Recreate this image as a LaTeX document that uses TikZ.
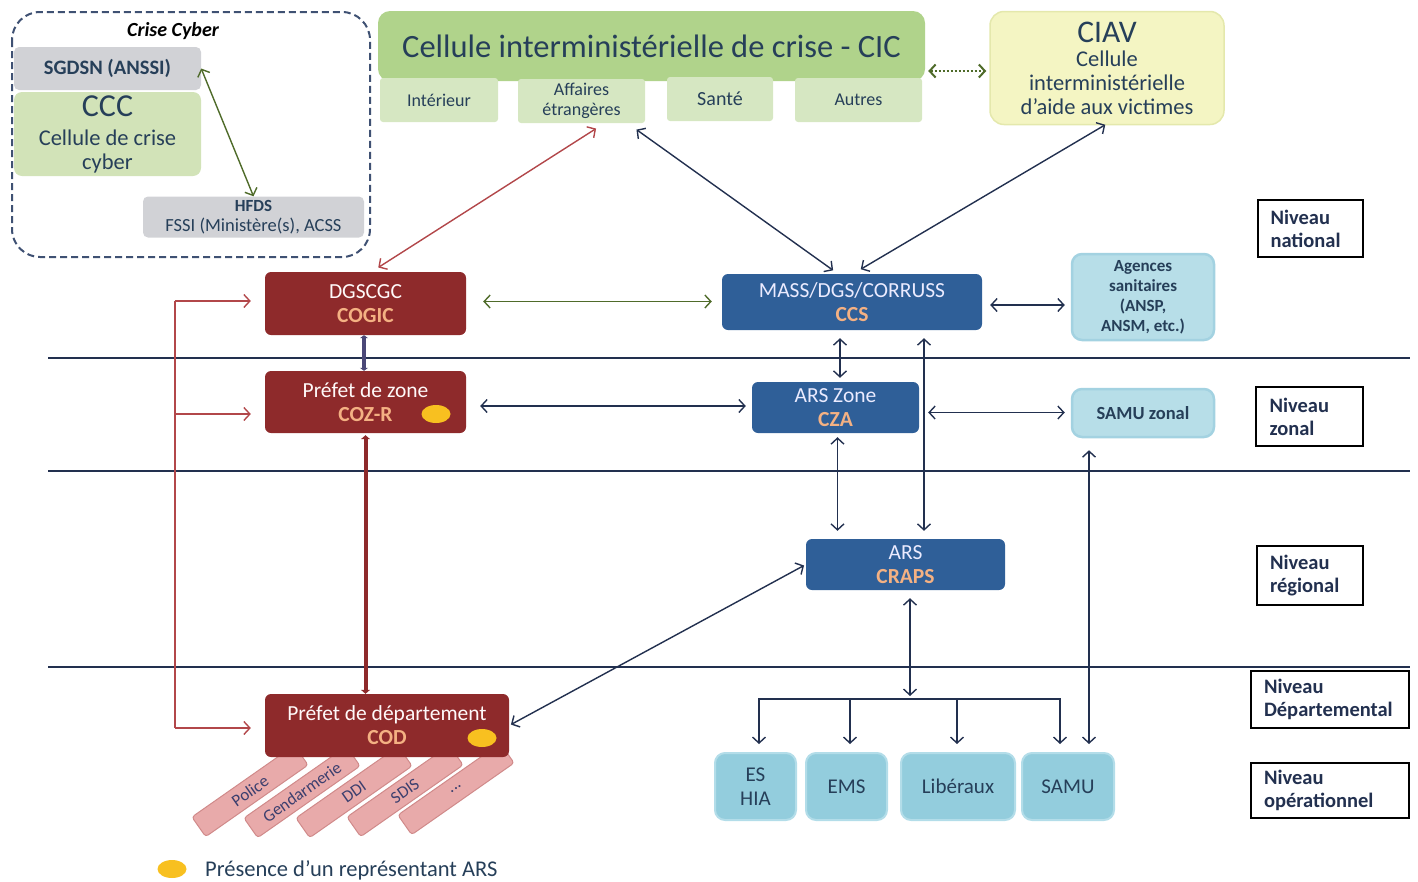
\documentclass[tikz,border=0pt]{standalone}
\usepackage{fontspec}
\setmainfont{Carlito}
\usetikzlibrary{arrows.meta,calc,shapes.geometric}
\definecolor{navy}{HTML}{22304F}
\definecolor{redl}{HTML}{B2474A}
\definecolor{greenl}{HTML}{4F6B2A}
\definecolor{darkred}{HTML}{8E2A2B}
\definecolor{blueb}{HTML}{2F5F98}
\definecolor{orangt}{HTML}{F4B183}
\definecolor{lightb}{HTML}{B7DEE8}
\definecolor{lightbd}{HTML}{A3D2E1}
\definecolor{botb}{HTML}{93CDDD}
\definecolor{botbd}{HTML}{B3DDE9}
\definecolor{cicdark}{HTML}{B0D38B}
\definecolor{ciclight}{HTML}{D6E7C2}
\definecolor{cccg}{HTML}{D2E3B8}
\definecolor{grayb}{HTML}{D1D2D6}
\definecolor{ciavy}{HTML}{F4F5C3}
\definecolor{ciavd}{HTML}{E4E8AC}
\definecolor{txt}{HTML}{263F59}
\definecolor{pinkf}{HTML}{E8AAAA}
\definecolor{pinkd}{HTML}{D08A8A}
\definecolor{pinkt}{HTML}{3C3F6E}
\definecolor{dashc}{HTML}{3F5173}
\definecolor{yel}{HTML}{F8C020}
\definecolor{thicknavy}{HTML}{4B4878}
\newcommand{\sz}[2]{\fontsize{#1}{#2}\selectfont}
\newcommand{\sub}[1]{\textcolor{orangt}{\bfseries #1}}
\begin{document}
\begin{tikzpicture}[x=1pt,y=-1pt,
  >={Straight Barb[length=6pt,width=13pt]},
  box/.style={rounded corners=6pt, inner sep=2pt, align=center},
  redbox/.style={box, fill=darkred, text=white!90!pink, font=\sz{21.5}{24}},
  bluebox/.style={box, fill=blueb, text=white!92!blue, font=\sz{21.5}{24}},
  ltbox/.style={box, fill=lightb, draw=lightbd, line width=2.5pt, rounded corners=10pt, text=txt},
  botbox/.style={box, fill=botb, draw=botbd, line width=2pt, rounded corners=10pt, text=txt, font=\sz{21}{24}},
  graybox/.style={box, fill=grayb, rounded corners=5pt, text=txt},
  subbox/.style={box, fill=ciclight, rounded corners=3pt, text=txt, minimum height=44, font=\sz{18}{20}},
  niv/.style={draw=black, line width=1.5pt, align=left, inner sep=2pt, text=navy, font=\bfseries\sz{20.5}{23}},
  pink/.style={fill=pinkf, draw=pinkd, line width=1pt, rounded corners=3pt, rotate=35, minimum width=125, minimum height=24, text=pinkt, inner sep=1pt, font=\sz{17}{18}},
  nv/.style={navy, line width=1.4pt},
  rl/.style={redl, line width=1.4pt},
  gl/.style={greenl, line width=1.4pt},
  lvl/.style={navy, line width=1.2pt},
  dot/.style={fill=yel, ellipse, minimum width=29, minimum height=18, inner sep=0pt}
]
\useasboundingbox (0,0) rectangle (1418,881);

% level lines
\draw[lvl] (48,358) -- (1410,358);
\draw[lvl] (48,471) -- (1410,471);
\draw[lvl] (48,667) -- (1410,667);

% Crise cyber group
\draw[dashc, line width=2pt, dash pattern=on 7pt off 4pt, rounded corners=28pt] (12,12) rectangle (370,257);
\node[text=black, font=\bfseries\itshape\sz{20}{22}] (cyb) at (173,31) {Crise Cyber};
\node[box, fill=cccg, rounded corners=8pt, minimum width=187, minimum height=84, text=txt, font=\sz{22.5}{24}] (ccc) at (107.5,134) {{\sz{32}{32}CCC}\\[5pt]Cellule de crise\\cyber};
\node[graybox, minimum width=187, minimum height=43, font=\bfseries\sz{20.5}{22}] (sgdsn) at (107.5,68.5) {SGDSN (ANSSI)};
\node[graybox, minimum width=221, minimum height=41, font=\sz{18.5}{20}] (hfds) at (253.5,217) {{\bfseries\sz{17}{18}HFDS}\\FSSI (Ministère(s), ACSS};

% CIC
\node[box, fill=cicdark, rounded corners=12pt, minimum width=547, minimum height=70, text=txt, font=\sz{32.5}{34}] (cic) at (651.5,46) {Cellule interministérielle de crise - CIC};
\node[subbox, minimum width=118] (int) at (439,100) {Intérieur};
\node[subbox, minimum width=127] (aff) at (581.5,101) {Affaires\\étrangères};
\node[subbox, minimum width=106, font=\sz{20}{22}] (san) at (720,99) {Santé};
\node[subbox, minimum width=127] (aut) at (858.5,100) {Autres};

% CIAV
\node[box, fill=ciavy, draw=ciavd, line width=1.5pt, rounded corners=14pt, minimum width=234, minimum height=113, text=txt, font=\sz{22.5}{24}] (ciav) at (1107,68) {{\sz{31.5}{30}CIAV}\\Cellule\\interministérielle\\d’aide aux victimes};

% Niveau boxes
\node[niv, minimum width=105, minimum height=57, text width=80] (n1) at (1310.5,228.5) {Niveau\\national};
\node[niv, minimum width=107, minimum height=59, text width=80] (n2) at (1309.5,416.5) {Niveau\\zonal};
\node[niv, minimum width=106, minimum height=59, text width=80] (n3) at (1310,575.5) {Niveau\\régional};
\node[niv, minimum width=158, minimum height=57, text width=132] (n4) at (1330,699.5) {Niveau\\Départemental};
\node[niv, minimum width=158, minimum height=55, text width=132] (n5) at (1330,790.5) {Niveau\\opérationnel};

% red boxes
\node[redbox, minimum width=201, minimum height=63] (dg) at (365.5,303.5) {DGSCGC\\\sub{COGIC}};
\node[redbox, minimum width=201, minimum height=62] (pz) at (365.5,402) {Préfet de zone\\\sub{COZ-R}};
\node[dot] (d1) at (436,414) {};

% pink boxes
\node[pink] (p1) at (250,791) {Police};
\node[pink] (p2) at (302,792) {Gendarmerie};
\node[pink] (p3) at (354,792) {DDI};
\node[pink] (p4) at (405,791) {SDIS};
\node[pink] (p5) at (456,789) {...};

\node[redbox, minimum width=244, minimum height=63] (pd) at (387,725.5) {Préfet de département\\\sub{COD}};
\node[dot] (d2) at (482,738) {};

% blue boxes
\node[bluebox, minimum width=260, minimum height=56] (mass) at (852,302) {MASS/DGS/CORRUSS\\\sub{CCS}};
\node[bluebox, minimum width=167, minimum height=51] (arsz) at (835.5,407.5) {ARS Zone\\\sub{CZA}};
\node[bluebox, minimum width=199, minimum height=51] (ars) at (905.5,564.5) {ARS\\\sub{CRAPS}};

% light blue boxes
\node[ltbox, minimum width=142, minimum height=86, font=\bfseries\sz{17}{20}] (ag) at (1143,297) {Agences\\sanitaires\\(ANSP,\\ANSM, etc.)};
\node[ltbox, minimum width=142, minimum height=48, font=\bfseries\sz{18.5}{20}] (sz) at (1143,413) {SAMU zonal};

% bottom boxes
\node[botbox, minimum width=81, minimum height=67] (es) at (755.5,786.5) {ES\\HIA};
\node[botbox, minimum width=81, minimum height=67] (ems) at (846.5,786.5) {EMS};
\node[botbox, minimum width=114, minimum height=67] (lib) at (958,786.5) {Libéraux};
\node[botbox, minimum width=92, minimum height=67] (samu) at (1068,786.5) {SAMU};

% legend
\node[dot] (ld) at (172,869) {};
\node[anchor=west, text=txt, inner sep=0pt, font=\sz{22.5}{24}] (lt) at (205,870) {Présence d’un représentant ARS};

% connectors
\draw[gl, <->] (sgdsn.east) -- (hfds.north);
\draw[greenl, line width=2pt, dotted, <->, shorten <=3pt, shorten >=3pt] ([yshift=-25pt]cic.east) -- ([yshift=-25pt]cic.east -| ciav.west);
\draw[rl, <->, shorten <=8pt, shorten >=10pt] ([xshift=6pt]dg.north) -- ([xshift=23pt]aff.south);
\draw[nv, <->, shorten <=11pt, shorten >=6pt] ([xshift=46pt]aff.south) -- ([xshift=-14pt]mass.north);
\draw[nv, <->, shorten <=2pt, shorten >=9pt] ([yshift=1.5pt]ciav.south) -- ([xshift=1pt]mass.north);
\draw[gl, <->, shorten <=17pt, shorten >=10pt] ([yshift=2pt]dg.east) -- ([yshift=2pt]dg.east -| mass.west);
\draw[nv, <->, shorten <=8pt, shorten >=6pt] ([yshift=-3pt]mass.east) -- ([yshift=-3pt]mass.east -| ag.west);
\draw[nv, <->, shorten <=8pt, shorten >=4pt] ([xshift=-12pt]mass.south) -- ([xshift=-12pt]mass.south |- arsz.north);
\draw[nv, <->, shorten <=14pt, shorten >=6pt] ([yshift=-4pt]pz.east) -- ([yshift=-4pt]pz.east -| arsz.west);
\draw[nv, <->, shorten <=9pt, shorten >=6pt] ([yshift=-5pt]arsz.east) -- ([yshift=-5pt]arsz.east -| sz.west);
\draw[nv, <->, shorten <=4pt, shorten >=8pt] ([xshift=2pt]arsz.south) -- ([xshift=2pt]arsz.south |- ars.north);
\draw[nv, <->, shorten <=8pt, shorten >=8pt] ([xshift=72pt]mass.south) -- ([xshift=72pt]mass.south |- ars.north);
\draw[nv, <->, shorten <=12pt, shorten >=8pt] ([xshift=-54pt]sz.south) -- ([xshift=-54pt]sz.south |- samu.north);
\draw[nv, <->, shorten <=2pt, shorten >=2pt] (pd.east) -- (ars.west);

\coordinate (j) at (910,699);
\draw[nv, <->, shorten <=8pt, shorten >=3pt] ([xshift=4.5pt]ars.south) -- (j);
\draw[nv, ->, shorten >=8pt] (j) -| ([xshift=3.5pt]es.north);
\draw[nv, ->, shorten >=8pt] (j) -| ([xshift=3.5pt]ems.north);
\draw[nv, ->, shorten >=8pt] (j) -| ([xshift=-1pt]lib.north);
\draw[nv, ->, shorten >=8pt] (j) -| ([xshift=-8pt]samu.north);

\draw[thicknavy, line width=4pt, {Triangle[length=3pt,width=8pt]}-{Triangle[length=3pt,width=8pt]}] ([xshift=-1.5pt]dg.south) -- ([xshift=-1.5pt]pz.north);
\draw[darkred, line width=4pt, {Triangle[length=4pt,width=9pt]}-{Triangle[length=4pt,width=9pt]}, shorten <=2pt] (pz.south) -- (pz.south |- pd.north);

\coordinate (r1) at (175,301);
\coordinate (r2) at (175,414);
\coordinate (r3) at (175,728);
\draw[rl] (r1) -- (r3);
\draw[rl, ->, shorten >=14pt] (r1) -- (r1 -| dg.west);
\draw[rl, ->, shorten >=14pt] (r2) -- (r2 -| pz.west);
\draw[rl, ->, shorten >=14pt] (r3) -- (r3 -| pd.west);
\end{tikzpicture}
\end{document}
